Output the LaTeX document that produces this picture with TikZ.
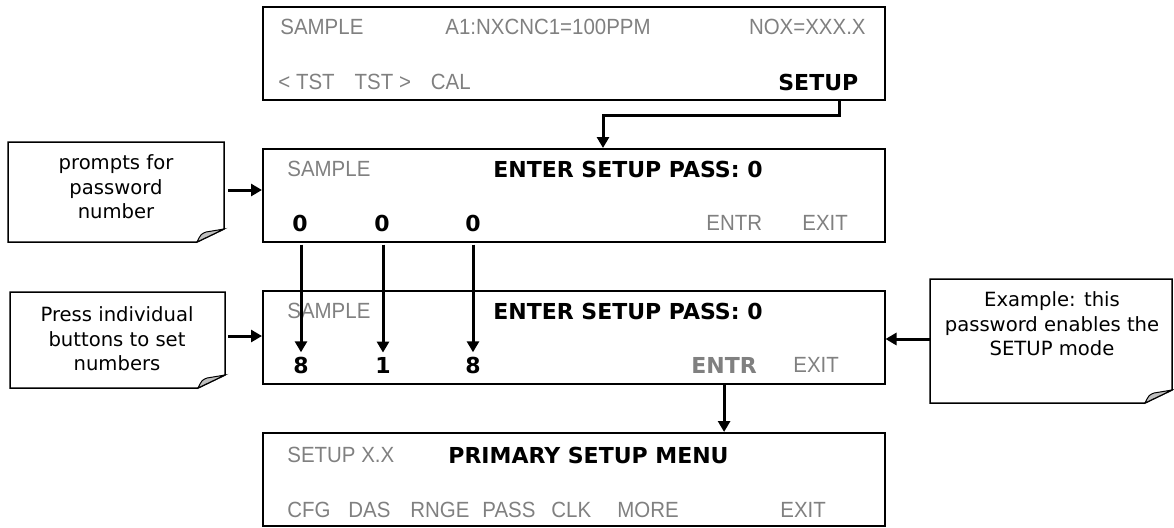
\documentclass[tikz,border=0pt]{standalone}
\usepackage{fontspec}
\setmainfont{DejaVu Sans}
\newfontfamily\lcdfont[FakeStretch=0.93]{Liberation Sans}
\usetikzlibrary{arrows.meta}

\begin{document}
\begin{tikzpicture}[
        x=0.5pt, y=-0.5pt,
        screen/.style={rectangle, draw=black, line width=0.75pt, minimum width=311pt, minimum height=46.5pt, anchor=north west, inner sep=0pt},
        lcd/.style={font=\lcdfont\fontsize{11}{13}\selectfont, text=black!50, anchor=west, inner sep=0pt},
        key/.style={font=\bfseries\fontsize{11}{13}\selectfont, anchor=west, inner sep=0pt},
        note/.style={font=\fontsize{9.8}{12.25}\selectfont, align=center},
        arrow/.style={-{Triangle[width=6pt, length=5.5pt]}, line width=1.5pt}
    ]
        \useasboundingbox (0,0) rectangle (1174,527);

        % Screens
        \node (setup) [screen] at (262,6) {};
        \node (pass) [screen] at (262,148) {};
        \node (code) [screen] at (262,290) {};
        \node (menu) [screen] at (262,432) {};

        % Sample screen
        \node (s-sample) [lcd] at (280,27) {SAMPLE};
        \node (s-conc) [lcd] at (445,27) {A1:NXCNC1=100PPM};
        \node (s-nox) [lcd, anchor=east] at (866,27) {NOX=XXX.X};
        \node (s-tst) [lcd] at (278,82) {<~TST\hspace{10pt}TST~>\hspace{10pt}CAL};
        \node (s-setup) [key] at (778,82) {SETUP};

        % Password screen
        \node (p-sample) [lcd] at (287,169) {SAMPLE};
        \node (p-prompt) [key] at (493,169) {ENTER SETUP PASS: 0};
        \node (p-d1) [key, anchor=center] at (300,223) {0};
        \node (p-d2) [key, anchor=center] at (382,223) {0};
        \node (p-d3) [key, anchor=center] at (473,223) {0};
        \node (p-entr) [lcd] at (706,223) {ENTR};
        \node (p-exit) [lcd] at (802,223) {EXIT};

        % Password entered
        \node (c-sample) [lcd] at (287,311) {SAMPLE};
        \node (c-prompt) [key] at (493,311) {ENTER SETUP PASS: 0};
        \node (c-d1) [key, anchor=center] at (301,365) {8};
        \node (c-d2) [key, anchor=center] at (383,365) {1};
        \node (c-d3) [key, anchor=center] at (473,365) {8};
        \node (c-entr) [key, text=black!50] at (691,365) {ENTR};
        \node (c-exit) [lcd] at (793,365) {EXIT};

        % Setup menu
        \node (m-title) [lcd] at (287,455) {SETUP X.X};
        \node (m-head) [key] at (448,455) {PRIMARY SETUP MENU};
        \foreach \w/\x in {CFG/287, DAS/348, RNGE/410, PASS/482, CLK/551, MORE/617}
            \node (m-\w) [lcd] at (\x,510) {\w};
        \node (m-exit) [lcd] at (780,510) {EXIT};

        % Notes
        \node (note1) [note] at (116,187) {prompts for\\password\\number};
        \node (note2) [note] at (117,339) {Press individual\\buttons to set\\numbers};
        \node (note3) [note] at (1052,324) {Example: this\\password enables the\\SETUP mode};
        \foreach \xa/\ya/\xb/\yb in {8/142/224/242, 10/292/225/388, 930/279/1172/403} {
            \draw [line width=0.75pt] (\xa,\ya) -- (\xb,\ya) -- (\xb,\yb-13) -- (\xb-27,\yb) -- (\xa,\yb) -- cycle;
            \draw [line width=0.5pt, fill=black!25] (\xb-27,\yb) .. controls (\xb-23,\yb-8) .. (\xb-18,\yb-10) -- (\xb,\yb-13) -- cycle;
        }

        % Arrows
        \coordinate (setupkey) at (839,99);
        \coordinate (passtop) at (603,148);
        \draw [arrow] (setupkey) -- ++(0,16) -| (passtop);
        \foreach \d in {1,2,3}
            \draw [arrow, shorten <=1pt, shorten >=2pt] (pass.south -| c-d\d) -- (c-d\d.north);
        \draw [arrow] (code.south -| c-entr) -- (menu.north -| c-entr);
        \coordinate (n1) at (228,190);
        \coordinate (n2) at (228,336);
        \coordinate (n3) at (930,339);
        \draw [arrow] (n1) -- (n1 -| pass.west);
        \draw [arrow] (n2) -- (n2 -| code.west);
        \draw [arrow] (n3) -- (n3 -| code.east);
    \end{tikzpicture}
\end{document}
